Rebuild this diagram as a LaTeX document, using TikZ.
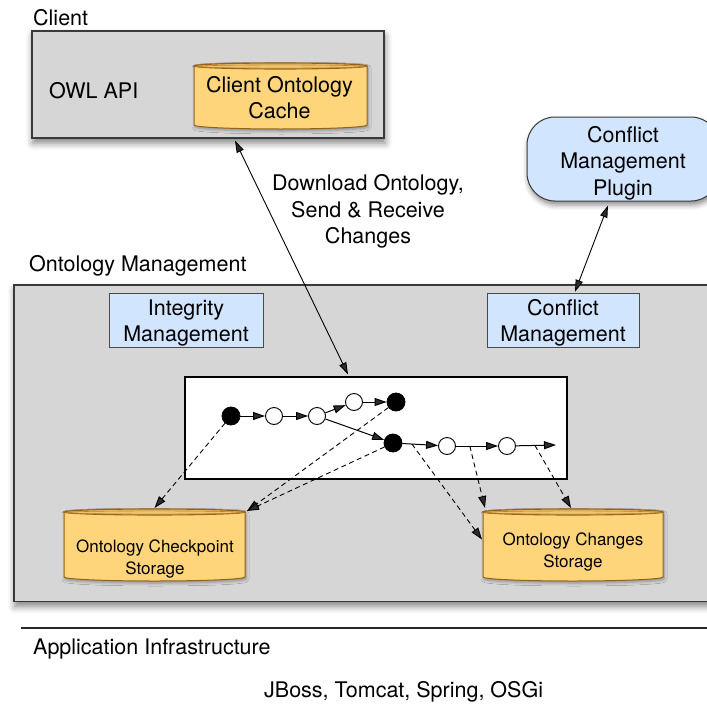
\documentclass[tikz,border=0pt]{standalone}
\usepackage{fontspec}
\setmainfont{TeX Gyre Heros}
\usetikzlibrary{arrows.meta,shadows.blur,calc}
\definecolor{graybg}{HTML}{D6D6D6}
\definecolor{boxline}{HTML}{3A3A3A}
\definecolor{bluebg}{HTML}{D2E5FF}
\definecolor{blueline}{HTML}{4A4A4A}
\definecolor{cylbg}{HTML}{FFD57C}
\definecolor{cylline}{HTML}{94621A}
\definecolor{cylin}{HTML}{B98230}
\newcommand\bigf{\fontsize{21.5}{26.5}\selectfont}
\newcommand\smallf{\fontsize{17}{22}\selectfont}
\newcommand\drawcyl[2]{%
  \path[cylfillsty] (#1.north west) -- (#1.south west)
     arc[start angle=180,end angle=360,x radius=#2pt,y radius=4pt]
     -- (#1.north east)
     arc[start angle=0,end angle=180,x radius=#2pt,y radius=3pt] -- cycle;
  \draw[cylrim] (#1.north) ellipse[x radius=#2pt, y radius=3pt];
  \draw[cylinner] ([yshift=-0.5pt]#1.north) ellipse[x radius=#2pt-2.5pt, y radius=1.6pt];
}
\tikzset{
  graybox/.style={draw=boxline, line width=1.1pt, fill=graybg, inner sep=0pt,
    blur shadow={shadow xshift=1pt, shadow yshift=-5pt, shadow blur radius=7pt, shadow opacity=50}},
  cylbody/.style={inner sep=0pt, outer sep=0pt},
  cylfillsty/.style={fill=cylbg, draw=cylline, line width=1pt,
    blur shadow={shadow xshift=1pt, shadow yshift=-2pt, shadow blur radius=3pt, shadow opacity=35}},
  cylrim/.style={draw=cylline, line width=1.1pt, fill=cylbg!85!cylline},
  cylinner/.style={draw=cylin, line width=0.6pt},
  bigtext/.style={font=\bigf, inner sep=0pt, align=center},
  smalltext/.style={font=\smallf, inner sep=0pt, align=center},
  bluebox/.style={draw=blueline, line width=0.9pt, fill=bluebg, font=\bigf, align=center, inner sep=0pt},
  pluginbox/.style={draw=boxline, line width=1pt, fill=bluebg, font=\bigf, align=center, inner sep=0pt,
    rounded corners=28pt,
    blur shadow={shadow xshift=1pt, shadow yshift=-4pt, shadow blur radius=5pt, shadow opacity=45}},
  histbox/.style={draw=black, line width=1.1pt, fill=white, inner sep=0pt},
  blk/.style={circle, fill=black, draw=black, line width=0.8pt, minimum size=18pt, inner sep=0pt},
  wht/.style={circle, fill=white, draw=black, line width=0.9pt, minimum size=17pt, inner sep=0pt},
  arr/.style={-{Triangle[length=12pt,width=8pt]}, line width=1pt},
  dblarr/.style={{Triangle[length=12pt,width=7.5pt]}-{Triangle[length=12pt,width=7.5pt]}, line width=0.9pt},
  dasharr/.style={-{Triangle[length=12pt,width=8pt]}, dash pattern=on 5pt off 3.5pt, line width=0.9pt},
  sepline/.style={draw=black!85, line width=1.2pt}
}
\begin{document}
\begin{tikzpicture}[x=1pt,y=1pt]
\useasboundingbox (0,0) rectangle (707,-704);
% containers
\node[graybox, minimum width=352pt, minimum height=107pt] (clientbox) at (208,-84.5) {};
\node[graybox, minimum width=712pt, minimum height=316.5pt] (ombox) at (370,-443.2) {};
\draw[sepline] (21,-628) -- (720,-628);
% cylinders
\node[cylbody, minimum width=173pt, minimum height=59pt] (cache) at (280.5,-95.5) {};
\drawcyl{cache}{86.5}
\node[cylbody, minimum width=181pt, minimum height=65pt] (cp) at (154.5,-544.5) {};
\drawcyl{cp}{90.5}
\node[cylbody, minimum width=180pt, minimum height=65pt] (ch) at (573,-544.5) {};
\drawcyl{ch}{90}
\node[bigtext] (cachet) at (279.5,-97.6) {Client Ontology\\Cache};
\node[smalltext] (cpt) at (155,-558.5) {Ontology Checkpoint\\Storage};
\node[smalltext] (cht) at (573,-551.5) {Ontology Changes\\Storage};
% labels
\node[bigtext, anchor=base west] (clientlbl) at (33,-25) {Client};
\node[bigtext, anchor=base west] (owl) at (49,-98) {OWL API};
\node[bigtext, anchor=base west] (omlbl) at (29,-271) {Ontology Management};
\node[bigtext, anchor=base west] (applbl) at (33,-654) {Application Infrastructure};
\node[bigtext, anchor=base west] (jboss) at (264,-697) {JBoss, Tomcat, Spring, OSGi};
\node[bigtext] (dllbl) at (368,-211.8) {Download Ontology,\\Send \& Receive\\Changes};
% blue boxes
\node[bluebox, minimum width=154pt, minimum height=54.5pt] (im) at (186,-320.5) {Integrity\rule{0pt}{20.5pt}\\Management};
\node[bluebox, minimum width=152pt, minimum height=54.5pt] (cm) at (563,-320.5) {Conflict\rule{0pt}{21pt}\\Management};
\node[pluginbox, minimum width=192pt, minimum height=84pt] (plugin) at (623,-159) {Conflict\rule{0pt}{24pt}\\Management\\Plugin};
% history
\node[histbox, minimum width=382pt, minimum height=102pt] (hist) at (376,-428) {};
\node[blk] (b1) at (231,-416) {};
\node[wht] (w1) at (274,-416) {};
\node[wht] (w2) at (317,-416) {};
\node[wht] (w3) at (354,-402) {};
\node[blk] (b2) at (396,-402) {};
\node[blk] (b3) at (393,-443) {};
\node[wht] (w4) at (447,-446) {};
\node[wht] (w5) at (507,-446) {};
\coordinate (e1) at (556,-445);
\draw[arr] (b1) -- (w1);
\draw[arr] (w1) -- (w2);
\draw[arr] (w2) -- (w3);
\draw[arr] (w3) -- (b2);
\draw[arr] (w2) -- (b3);
\draw[arr] (b3) -- (w4);
\draw[arr] (w4) -- (w5);
\draw[arr] (w5) -- (e1);
\coordinate (s1) at ($(b3)!0.35!(w4)$);
\coordinate (s2) at ($(w4)!0.38!(w5)$);
\coordinate (s3) at ($(w5)!0.57!(e1)$);
% dashed
\draw[dasharr] (b1) -- ([yshift=4pt]cp.north);
\draw[dasharr] (b2) -- ([xshift=2pt,yshift=1pt]cp.north east);
\draw[dasharr] (b3) -- ([xshift=2pt,yshift=1pt]cp.north east);
\draw[dasharr] (s1) -- ([xshift=-1pt,yshift=5pt]ch.west);
\draw[dasharr] (s2) -- ([xshift=2pt,yshift=4pt]ch.north west);
\draw[dasharr] (s3) -- ([xshift=-2pt,yshift=4pt]ch.north);
% double arrows
\draw[dblarr] ([xshift=27pt,yshift=-2pt]clientbox.south) -- ([xshift=-28pt,yshift=2pt]hist.north);
\draw[dblarr] ([xshift=-15pt,yshift=-4pt]plugin.south) -- ([xshift=12pt,yshift=1pt]cm.north);
\end{tikzpicture}
\end{document}
